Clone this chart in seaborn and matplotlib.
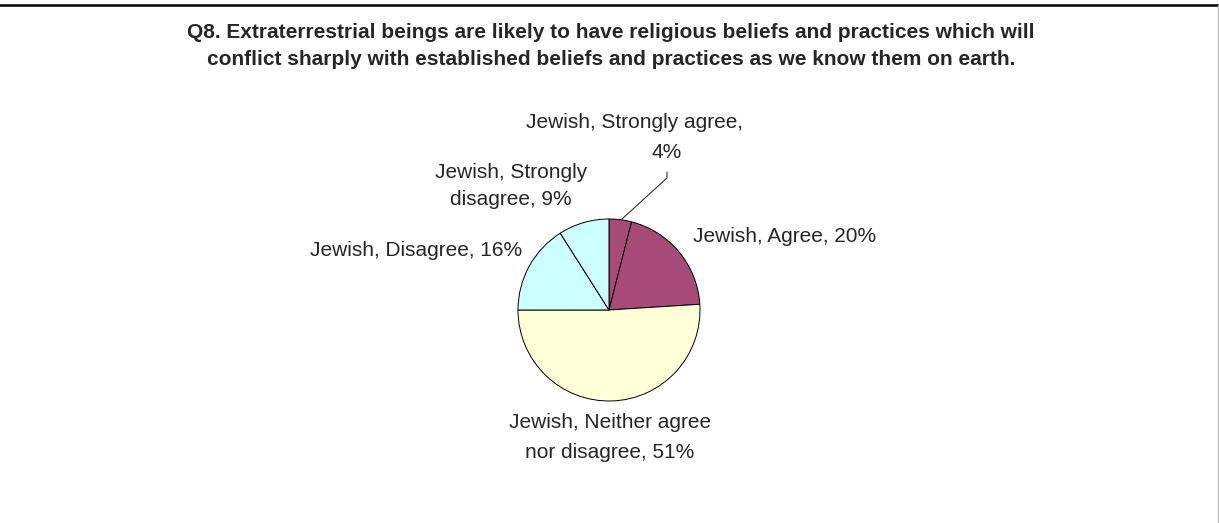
import matplotlib
matplotlib.use("Agg")
import matplotlib.pyplot as plt
from matplotlib.lines import Line2D
import seaborn as sns

# data
group = "Jewish"
responses = ["Strongly agree", "Agree", "Neither agree nor disagree", "Disagree", "Strongly disagree"]
shares = [4, 20, 51, 16, 9]
slice_colors = ["#A64B78", "#A64B78", "#FFFFD8", "#CCFFFF", "#CCFFFF"]

title = ("Q8. Extraterrestrial beings are likely to have religious beliefs and practices which will\n"
         "conflict sharply with established beliefs and practices as we know them on earth.")

# label lines as Excel wrapped them, with (x centre, y centre) in pixels
label_lines = [
    (f"{group}, {responses[0]},", 635, 123),
    (f"{shares[0]}%", 667, 152),
    (f"{group}, {responses[1]}, {shares[1]}%", 785, 237),
    (f"{group}, Neither agree", 610, 422),
    (f"nor disagree, {shares[2]}%", 610, 452),
    (f"{group}, {responses[3]}, {shares[3]}%", 416, 250),
    (f"{group}, Strongly", 511, 172),
    (f"disagree, {shares[4]}%", 511, 200),
]

sns.set_theme(style="white")
plt.rcParams["font.family"] = ["Liberation Sans", "DejaVu Sans"]

W, H = 1219, 523
fig = plt.figure(figsize=(W / 100, H / 100), dpi=100)
fig.patch.set_facecolor("white")


def fx(x):
    return x / W


def fy(y):
    return 1 - y / H


cx, cy, r = 609, 310, 91
ax = fig.add_axes([fx(cx - r), fy(cy + r), 2 * r / W, 2 * r / H])
ax.pie(shares, colors=slice_colors, startangle=90, counterclock=False,
       wedgeprops=dict(edgecolor="black", linewidth=0.7), radius=1.0)
ax.set_xlim(-1.0, 1.0)
ax.set_ylim(-1.0, 1.0)
ax.set_aspect("equal")
ax.axis("off")

fig.text(fx(611), fy(46), title, ha="center", va="center", fontsize=15,
         fontweight="bold", linespacing=1.5)

for txt, x, y in label_lines:
    fig.text(fx(x), fy(y), txt, ha="center", va="center", fontsize=15)

# leader line for the small slice
fig.add_artist(Line2D([fx(622), fx(667), fx(667)], [fy(219), fy(178), fy(172)],
                      color="#333333", linewidth=0.8))

# frame edges
fig.add_artist(Line2D([0, 1], [fy(5), fy(5)], color="black", linewidth=1.8))
fig.add_artist(Line2D([fx(1217.5), fx(1217.5)], [fy(5), 0], color="#BBBBBB", linewidth=1.0))

fig.savefig("out.png", dpi=100, facecolor="white")
